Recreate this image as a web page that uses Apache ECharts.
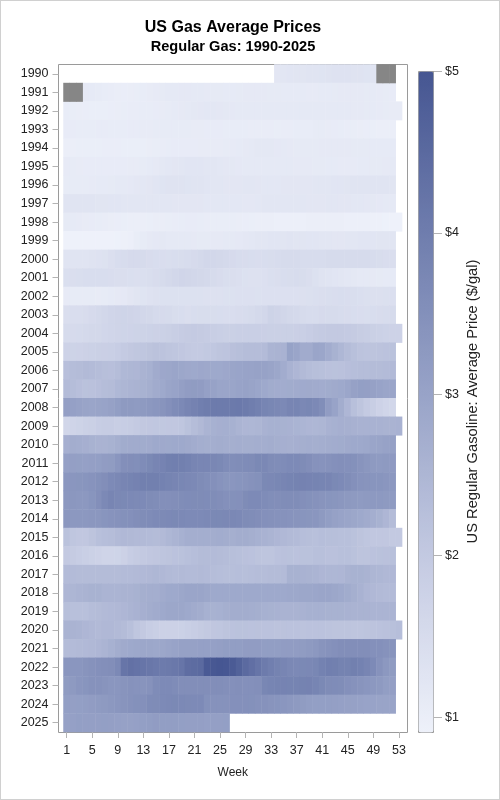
<!DOCTYPE html>
<html><head><meta charset="utf-8">
<style>html,body{margin:0;padding:0;background:#fff}#c{width:500px;height:800px}
#b{position:absolute;left:0;top:0;width:498px;height:798px;border:1px solid #d0d0d0;pointer-events:none}</style>
<script src="https://cdn.jsdelivr.net/npm/echarts@6/dist/echarts.min.js"></script>
</head><body><div id="c"></div><div id="b"></div>
<script>
// Weekly average prices in US cents per gallon, one list per year, week 1 first.
const years = [];
for (let y = 1990; y <= 2025; y++) years.push(String(y));
const weeks = [];
for (let w = 1; w <= 53; w++) weeks.push(String(w));
const p1990 = [null,null,null,null,null,null,null,null,null,null,null,null,null, null,null,null,null,null,null,null,null,null,null,null,null,null, null,null,null,null,null,null,null, 120,122,124,125,125,126,127,128,129,131,131,131,130,129,128,127];
const p1991 = [null,null,null,112,110,108,105,104,102,101,102,103,105, 107,109,111,113,114,115,115,114,113,112,111,111,110, 110,111,112,112,112,112,111,111,110,110,110,110,109, 109,110,110,111,112,112,112,112,111,110,109,108,106];
const p1992 = [105,103,102,101,100,100,100,101,102,103,104,104,105, 105,106,107,108,110,112,114,116,117,118,118,117,116, 115,114,114,114,113,113,113,113,113,113,113,113,113, 113,113,114,114,114,113,112,112,111,110,109,108,107,107];
const p1993 = [106,106,105,105,105,106,106,105,105,105,106,106,107, 107,108,108,108,108,108,108,107,107,106,106,106,105, 105,105,105,104,104,104,104,103,104,104,105,105,105, 108,108,107,106,105,104,103,102,101,100,99,99,99];
const p1994 = [99,99,100,100,100,100,101,101,101,100,100,100,100, 102,103,104,105,106,106,106,106,107,107,107,107,108, 109,110,112,114,116,116,116,115,113,112,111,111,111, 111,112,112,112,112,112,111,111,111,110,110,110,110];
const p1995 = [109,108,107,106,106,106,106,106,106,106,107,107,108, 110,112,116,118,120,122,124,124,124,122,121,119,117, 116,115,114,113,113,113,113,113,113,113,112,112,112, 111,111,110,110,109,109,109,110,110,111,111,112,113];
const p1996 = [108,108,108,108,109,110,110,111,113,114,115,117,118, 120,124,128,130,130,129,128,127,126,124,122,121,120, 120,120,121,121,120,119,119,119,120,120,120,120,120, 121,121,122,123,124,125,126,127,127,127,127,126,125];
const p1997 = [127,127,127,126,126,125,125,124,123,122,122,121,122, 122,122,121,121,120,120,120,120,120,119,119,119,119, 118,118,117,117,118,122,122,121,121,121,121,121,120, 120,120,121,121,120,120,119,118,117,116,115,114,113];
const p1998 = [111,110,109,107,106,105,104,102,101,100,99,99,99, 100,102,102,103,104,105,106,106,105,104,103,103,103, 103,102,101,100,99,98,98,97,97,97,97,97,98, 98,99,99,99,98,97,96,96,95,94,93,92,91,91];
const p1999 = [91,91,91,91,91,91,91,91,92,93,97,103,108, 112,115,116,114,113,113,113,112,111,111,112,112,113, 114,115,117,119,122,122,123,124,125,126,125,125,124, 123,122,121,120,120,121,122,123,124,124,125,125,125];
const p2000 = [126,126,127,127,129,131,133,140,146,150,153,153,152, 148,146,145,144,146,147,150,153,158,163,163,161,156, 153,150,148,146,145,146,147,150,151,151,151,150,149, 150,150,151,152,152,152,152,152,152,150,147,145,143];
const p2001 = [141,143,144,146,146,146,146,145,143,142,141,140,141, 144,148,152,157,163,167,166,163,160,157,152,148,144, 142,140,136,134,135,137,141,143,146,147,150,147,143, 136,130,126,124,122,119,116,113,113,112,111,110,110];
const p2002 = [109,108,108,108,108,107,108,110,112,115,120,125,128, 131,134,136,136,136,136,136,136,136,135,135,135,136, 136,137,137,137,136,137,137,137,137,137,137,138,139, 141,142,144,145,146,145,144,141,139,138,138,139,140];
const p2003 = [143,145,145,148,153,157,162,167,170,172,171,168,163, 160,155,153,151,147,146,143,146,147,147,147,146,145, 145,148,150,152,156,163,175,170,165,161,156,152,150, 150,153,152,151,150,148,146,145,144,146,148,150,151];
const p2004 = [152,153,155,158,160,161,164,167,170,172,173,174,175, 177,178,180,183,188,194,196,197,196,192,188,185,183, 183,185,186,186,185,184,183,182,183,183,184,186,190, 195,198,200,200,200,198,195,191,187,183,179,177,176,176];
const p2005 = [176,175,176,178,180,182,184,186,190,197,203,207,209, 215,219,216,212,209,205,201,198,198,202,206,212,214, 224,228,232,232,232,238,255,258,260,304,295,279,279, 295,292,277,262,249,236,225,216,214,215,216,218,220];
const p2006 = [226,232,235,240,238,232,228,226,232,246,249,250,258, 265,280,289,291,295,290,287,285,289,287,285,285,289, 295,297,300,301,303,302,298,291,277,260,250,240,233, 228,225,222,220,221,226,230,232,233,235,236,238,240];
const p2007 = [238,232,226,220,222,226,232,236,246,252,256,258,262, 270,280,285,295,300,310,318,320,318,308,302,296,295, 296,300,302,298,292,285,278,276,276,278,280,281,282, 280,276,278,282,285,292,305,312,310,305,300,296,295];
const p2008 = [310,308,303,298,296,298,300,305,315,324,325,322,325, 330,335,340,350,360,368,378,386,395,400,405,405,405, 407,410,405,398,390,380,375,372,368,378,380,372,375, 368,356,318,300,275,250,225,212,198,188,176,168,163];
const p2009 = [165,170,175,180,183,190,192,192,188,190,193,198,203, 205,206,204,205,205,210,220,233,243,255,265,268,269, 265,255,250,248,252,260,264,264,262,260,257,254,250, 248,252,260,265,268,266,263,260,260,261,260,259,259,260];
const p2010 = [268,274,272,268,262,258,258,262,270,278,280,280,278, 280,285,284,283,285,285,282,277,272,270,272,275,273, 270,272,270,270,272,272,275,270,268,266,268,270,272, 270,272,275,277,278,282,285,285,288,295,298,302,305];
const p2011 = [308,310,309,308,310,312,318,320,334,352,355,353,360, 370,378,384,392,395,392,388,378,376,376,374,370,360, 356,358,360,362,370,372,362,358,360,365,365,362,355, 345,342,345,350,352,350,348,340,332,325,322,324,323];
const p2012 = [331,335,336,338,342,348,355,365,372,378,383,386,392, 393,392,388,382,378,375,372,368,362,356,350,342,336, 335,338,340,345,348,370,372,375,378,383,385,386,384, 382,380,378,370,365,358,350,342,340,338,338,335,330];
const p2013 = [330,332,330,330,338,352,368,378,372,370,368,367,365, 362,358,352,352,355,358,360,362,362,360,358,355,350, 348,350,362,365,365,360,356,355,358,358,358,352,348, 345,340,338,336,332,328,324,322,325,326,326,324,322];
const p2014 = [332,330,330,330,332,332,338,342,345,348,350,355,358, 360,365,367,368,370,368,365,365,365,368,370,370,372, 372,368,362,358,355,350,347,345,345,342,340,338,336, 335,325,315,305,300,295,290,285,280,272,262,250,235];
const p2015 = [220,210,205,205,215,225,230,232,240,245,243,240,240, 238,236,240,248,256,265,272,272,272,272,275,277,275, 270,275,275,270,265,260,255,250,245,240,238,230,228, 225,230,228,228,225,225,220,215,210,205,205,205,200,200];
const p2016 = [200,195,190,186,180,176,170,170,172,178,190,195,200, 205,208,212,215,218,220,225,230,235,235,238,235,232, 228,225,222,218,215,212,212,218,222,220,218,220,220, 225,225,222,222,225,225,220,215,215,218,220,222,225];
const p2017 = [238,238,235,235,235,235,235,235,235,238,238,240,242, 245,248,245,240,238,240,238,238,240,238,232,230,228, 228,230,228,230,232,232,235,235,238,262,262,260,258, 255,250,248,248,250,258,262,262,258,252,248,245,245];
const p2018 = [250,252,255,258,262,262,255,255,255,258,258,262,270, 272,272,280,285,285,290,295,295,295,290,285,285,285, 285,285,285,285,285,285,285,285,285,288,288,290,290, 292,295,295,290,285,278,270,260,250,245,240,238,238];
const p2019 = [228,225,225,225,232,235,240,242,245,250,255,260,268, 275,280,285,290,290,290,285,280,275,265,262,265,270, 275,275,275,272,270,265,262,260,258,258,258,260,265, 265,265,262,262,262,260,258,258,258,255,255,255,255];
const p2020 = [258,258,255,250,245,240,245,245,240,235,225,210,200, 190,185,178,178,178,180,185,190,195,200,208,210,215, 218,220,220,218,219,218,218,217,219,218,218,217,218, 218,218,216,215,215,215,212,212,215,216,218,222,225,230];
const p2021 = [235,238,240,242,245,250,255,265,275,282,285,288,290, 290,288,290,295,300,305,305,305,308,308,308,310,315, 315,315,318,318,318,315,315,315,318,318,318,320,325, 330,340,345,350,355,355,355,355,355,350,350,345,340];
const p2022 = [335,335,335,340,345,350,352,355,368,420,430,425,420, 415,410,405,408,412,420,440,445,448,490,495,500,498, 488,470,450,435,420,405,395,385,378,372,368,370,372, 375,388,395,392,385,385,392,388,378,365,345,330,320];
const p2023 = [320,325,335,338,345,345,340,335,335,340,345,342,340, 345,360,365,365,360,355,355,355,355,355,355,355,352, 350,352,350,350,352,375,380,382,384,382,382,385,386, 380,370,362,360,358,350,345,340,335,330,325,315,310];
const p2024 = [312,310,312,315,318,322,325,330,335,340,345,348,350, 360,362,365,368,370,368,366,365,365,348,345,345,345, 350,350,350,348,345,345,340,338,335,330,325,320,315, 312,312,312,310,308,305,305,302,300,300,298,298,298];
const p2025 = [305,308,312,310,310,310,312,310,308,305,305,308,312, 315,318,315,315,315,312,310,310,310,308,310,310,312];
const allPrices = [p1990,p1991,p1992,p1993,p1994,p1995,p1996,p1997,p1998,p1999,p2000,p2001,p2002,p2003,p2004,p2005,p2006,p2007,p2008,p2009,p2010,p2011,p2012,p2013,p2014,p2015,p2016,p2017,p2018,p2019,p2020,p2021,p2022,p2023,p2024,p2025];
// Weeks flagged as missing (drawn grey): [year, week]
const missingCells = [['1990','50'],['1990','51'],['1990','52'],['1991','1'],['1991','2'],['1991','3']];
const ramp = ['#eef1fa','#c6cce3','#9aa5c9','#707eae','#465692'];

const cells = [];
allPrices.forEach((row, yi) => row.forEach((c, wi) => { if (c !== null) cells.push([weeks[wi], years[yi], c / 100]); }));
const greyCells = missingCells.map(m => [m[1], m[0], 1]);
const axisGrey = '#b4b4b4', frameGrey = '#9a9a9a', textCol = '#222';
const fontFamily = '"Liberation Sans", Arial, sans-serif';

const chart = echarts.init(document.getElementById('c'), null, {renderer:'canvas'});
chart.setOption({
  animation:false, backgroundColor:'#fff',
  textStyle:{fontFamily},
  title:[
    {text:'US Gas Average Prices', left:228, top:15, textAlign:'center', textStyle:{fontSize:16,fontWeight:'bold',color:'#000',fontFamily}},
    {text:'Regular Gas: 1990-2025', left:228, top:34, textAlign:'center', textStyle:{fontSize:14.6,fontWeight:'bold',color:'#000',fontFamily}}
  ],
  grid:[
    {left:63.5, top:64.5, width:338.6, height:667.5, containLabel:false},
    {left:58.5, top:64.5, width:349, height:668, show:true, borderColor:frameGrey, borderWidth:1, backgroundColor:'transparent'},
    {left:418, top:71, width:15, height:661},
    {left:433, top:71.5, width:9, height:645.6}
  ],
  xAxis:[
    {type:'category', gridIndex:0, data:weeks, name:'Week', nameLocation:'middle', nameGap:35,
     nameTextStyle:{fontSize:12,color:textCol},
     axisLine:{show:false}, axisTick:{show:true, interval:3, alignWithLabel:true, length:6, lineStyle:{color:axisGrey}},
     axisLabel:{interval:3, fontSize:12.5, color:textCol, margin:12}, splitLine:{show:false}},
    {type:'value', gridIndex:1, show:false, min:0, max:1},
    {type:'value', gridIndex:2, show:false, min:0, max:1},
    {type:'value', gridIndex:3, show:false, min:0, max:1}
  ],
  yAxis:[
    {type:'category', gridIndex:0, data:years, inverse:true, offset:5,
     axisLine:{show:false}, axisTick:{show:true, alignWithLabel:true, length:6, lineStyle:{color:axisGrey}},
     axisLabel:{interval:0, fontSize:12.5, color:textCol, margin:10}, splitLine:{show:false}},
    {type:'value', gridIndex:1, show:false, min:0, max:1},
    {type:'value', gridIndex:2, position:'right', min:0.907, max:5,
     name:'US Regular Gasoline: Average Price ($/gal)', nameLocation:'middle', nameGap:32, nameRotate:90,
     nameTextStyle:{fontSize:14.7,color:textCol},
     axisLine:{show:false}, axisTick:{show:false}, axisLabel:{show:false}, splitLine:{show:false}},
    {type:'value', gridIndex:3, position:'right', min:1, max:5, interval:1,
     axisLine:{show:false}, axisTick:{show:false},
     axisLabel:{fontSize:12.5, color:textCol, margin:3, formatter:v=>'$'+v},
     splitLine:{show:true, lineStyle:{color:axisGrey, width:1}}}
  ],
  visualMap:[
    {type:'continuous', seriesIndex:0, min:0.907, max:5, calculable:false, hoverLink:false, left:418, top:71,
     itemWidth:15, itemHeight:661, padding:0, borderColor:frameGrey, borderWidth:1, text:null, showLabel:false,
     inRange:{color:ramp}},
    {type:'continuous', seriesIndex:1, show:false, min:0, max:2, inRange:{color:['#868686','#868686']}}
  ],
  series:[
    {type:'heatmap', xAxisIndex:0, yAxisIndex:0, data:cells, progressive:0, silent:true},
    {type:'heatmap', xAxisIndex:0, yAxisIndex:0, data:greyCells, progressive:0, silent:true}
  ]
});
</script></body></html>
